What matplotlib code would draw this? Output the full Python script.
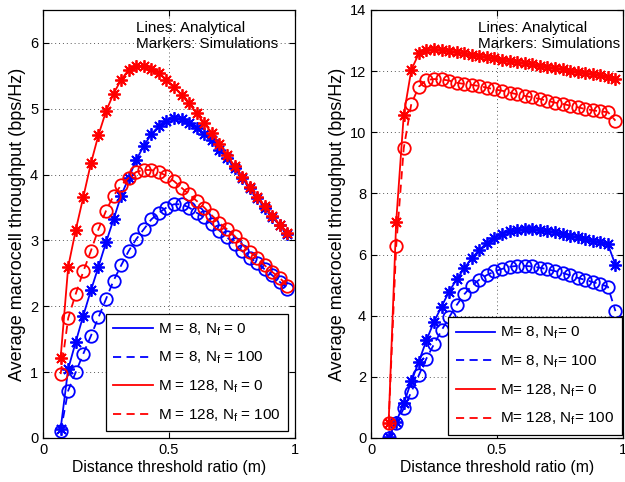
import matplotlib

matplotlib.use("Agg")

import matplotlib.pyplot as plt

plt.rcParams["font.family"] = ["Liberation Sans", "DejaVu Sans"]
plt.rcParams["mathtext.default"] = "regular"

# distance threshold ratio, same sample points for every curve
ratio = [0.07, 0.10, 0.13, 0.16, 0.19, 0.22, 0.25, 0.28, 0.31, 0.34, 0.37,
         0.40, 0.43, 0.46, 0.49, 0.52, 0.55, 0.58, 0.61, 0.64, 0.67, 0.70,
         0.73, 0.76, 0.79, 0.82, 0.85, 0.88, 0.91, 0.94, 0.97]

# left panel
left_m8_nf0 = [0.14, 1.05, 1.46, 1.86, 2.24, 2.60, 2.97, 3.32, 3.68, 3.95, 4.22,
               4.44, 4.61, 4.74, 4.82, 4.86, 4.85, 4.79, 4.71, 4.61, 4.52, 4.38,
               4.25, 4.10, 3.95, 3.79, 3.64, 3.50, 3.36, 3.23, 3.10]
left_m8_nf100 = [0.10, 0.72, 1.00, 1.28, 1.55, 1.83, 2.11, 2.39, 2.62, 2.84, 3.02,
                 3.17, 3.32, 3.42, 3.50, 3.55, 3.55, 3.50, 3.42, 3.35, 3.25, 3.15,
                 3.05, 2.94, 2.84, 2.74, 2.66, 2.56, 2.47, 2.37, 2.27]
left_m128_nf0 = [1.22, 2.60, 3.16, 3.66, 4.17, 4.60, 4.96, 5.23, 5.44, 5.59, 5.65,
                 5.65, 5.61, 5.54, 5.44, 5.33, 5.21, 5.08, 4.93, 4.78, 4.63, 4.46,
                 4.30, 4.13, 3.97, 3.81, 3.66, 3.52, 3.37, 3.24, 3.12]
left_m128_nf100 = [0.97, 1.82, 2.19, 2.53, 2.84, 3.17, 3.45, 3.68, 3.84, 3.95, 4.04,
                   4.07, 4.07, 4.04, 3.98, 3.90, 3.80, 3.70, 3.60, 3.50, 3.38, 3.27,
                   3.17, 3.07, 2.94, 2.83, 2.73, 2.62, 2.52, 2.43, 2.31]

# right panel
right_m8_nf0 = [0.02, 0.53, 1.13, 1.85, 2.50, 3.20, 3.80, 4.30, 4.79, 5.19, 5.55,
                5.88, 6.15, 6.38, 6.53, 6.68, 6.76, 6.81, 6.83, 6.83, 6.81, 6.77,
                6.73, 6.67, 6.62, 6.56, 6.50, 6.45, 6.40, 6.34, 5.66]
right_m8_nf100 = [0.00, 0.48, 0.97, 1.51, 2.06, 2.60, 3.07, 3.52, 3.95, 4.35, 4.70,
                  4.98, 5.18, 5.33, 5.45, 5.53, 5.60, 5.63, 5.63, 5.61, 5.57, 5.52,
                  5.46, 5.40, 5.32, 5.24, 5.17, 5.10, 5.03, 4.95, 4.15]
right_m128_nf0 = [0.50, 7.08, 10.57, 12.04, 12.58, 12.69, 12.72, 12.70, 12.66, 12.62,
                  12.58, 12.54, 12.50, 12.46, 12.42, 12.38, 12.34, 12.30, 12.26, 12.22,
                  12.18, 12.14, 12.10, 12.06, 12.02, 11.98, 11.94, 11.90, 11.86, 11.82,
                  11.74]
right_m128_nf100 = [0.50, 6.28, 9.48, 10.93, 11.49, 11.71, 11.74, 11.73, 11.69, 11.62,
                    11.58, 11.55, 11.51, 11.46, 11.40, 11.36, 11.30, 11.24, 11.19, 11.14,
                    11.09, 11.03, 10.97, 10.93, 10.87, 10.82, 10.76, 10.72, 10.68, 10.66,
                    10.38]

left_labels = ["M = 8, N$_f$ = 0", "M = 8, N$_f$ = 100",
               "M = 128, N$_f$ = 0", "M = 128, N$_f$ = 100"]
right_labels = ["M= 8, N$_f$= 0", "M= 8, N$_f$= 100",
                "M= 128, N$_f$= 0", "M= 128, N$_f$= 100"]

STAR = (8, 2, 0)
DASH = (0, (4.5, 3))


def panel(ax, curves, labels, ylim, yticks, note_x, legend_box):
    styles = [("blue", "-", STAR), ("blue", DASH, "o"),
              ("red", "-", STAR), ("red", DASH, "o")]
    handles = []
    for y, (col, ls, mk) in zip(curves, styles):
        h, = ax.plot(ratio, y, color=col, linestyle=ls, lw=1.3)
        if mk == "o":
            ax.plot(ratio, y, linestyle="none", marker="o", ms=9,
                    mfc="none", mec=col, mew=1.3)
        else:
            ax.plot(ratio, y, linestyle="none", marker=mk, ms=9,
                    mec=col, mew=1.3)
        handles.append(h)

    ax.set_xlim(0, 1)
    ax.set_ylim(*ylim)
    ax.set_xticks([0, 0.5, 1])
    ax.set_xticklabels(["0", "0.5", "1"])
    ax.set_yticks(yticks)
    ax.tick_params(direction="in", top=True, right=True, labelsize=10.5,
                   length=4, width=0.8)
    ax.grid(True, linestyle=(0, (1, 3)), color="0.35", lw=0.7)
    for s in ax.spines.values():
        s.set_linewidth(0.9)
    ax.set_xlabel("Distance threshold ratio (m)", fontsize=11.3, labelpad=2)
    ax.set_ylabel("Average macrocell throughput (bps/Hz)", fontsize=13,
                  labelpad=3)

    ax.text(note_x, 0.975, "Lines: Analytical\nMarkers: Simulations",
            transform=ax.transAxes, ha="left", va="top", fontsize=11,
            linespacing=1.2)

    leg = ax.legend(handles, labels, loc="lower right",
                    bbox_to_anchor=legend_box, borderaxespad=0,
                    fancybox=False, edgecolor="black", framealpha=1,
                    fontsize=11, handlelength=2.6, labelspacing=0.8,
                    handletextpad=0.3, borderpad=0.5)
    leg.get_frame().set_linewidth(0.9)


fig = plt.figure(figsize=(6.25, 4.82), dpi=100)
ax1 = fig.add_axes([0.0688, 0.0913, 0.4032, 0.888])
ax2 = fig.add_axes([0.5936, 0.0913, 0.4032, 0.888])

panel(ax1, [left_m8_nf0, left_m8_nf100, left_m128_nf0, left_m128_nf100],
      left_labels, (0, 6.5), [0, 1, 2, 3, 4, 5, 6], 0.37, (0.972, 0.016))
panel(ax2, [right_m8_nf0, right_m8_nf100, right_m128_nf0, right_m128_nf100],
      right_labels, (0, 14), [0, 2, 4, 6, 8, 10, 12, 14], 0.425, (0.996, 0.007))

plt.savefig("out.png", dpi=100)
